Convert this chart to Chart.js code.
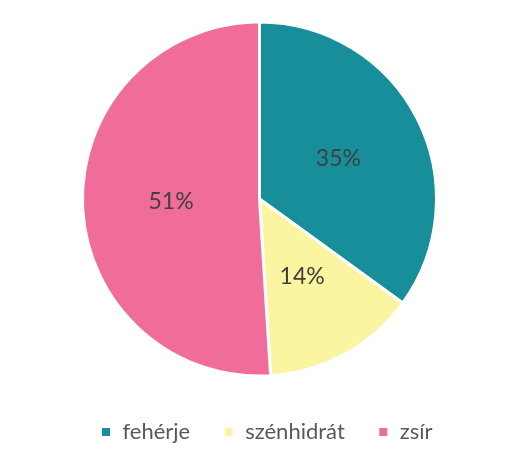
<!DOCTYPE html>
<html>
<head>
<meta charset="utf-8">
<script src="https://cdn.jsdelivr.net/npm/chart.js@4/dist/chart.umd.min.js"></script>
<style>
  html, body { margin: 0; padding: 0; background: #fff; }
  #wrap { width: 515px; height: 457px; }
</style>
</head>
<body>
<div id="wrap"><canvas id="pie"></canvas></div>
<script>
  const labels = ['fehérje', 'szénhidrát', 'zsír'];
  const values = [35, 14, 51];
  const colors = ['#178E9A', '#FBF4A0', '#F06C9B'];

  // draws the percentage in the middle of each slice
  const sliceLabels = {
    id: 'sliceLabels',
    afterDatasetsDraw(chart) {
      const ctx = chart.ctx;
      const meta = chart.getDatasetMeta(0);
      const total = values.reduce((a, b) => a + b, 0);
      ctx.save();
      ctx.font = '23px Lato';
      ctx.fillStyle = '#404040';
      ctx.textAlign = 'center';
      ctx.textBaseline = 'middle';
      meta.data.forEach((arc, i) => {
        const p = arc.tooltipPosition();
        ctx.fillText(Math.round(values[i] / total * 100) + '%', p.x, p.y);
      });
      ctx.restore();
    }
  };

  // legend sits a bit right of the pie centre in the original
  const legendShift = {
    id: 'legendShift',
    afterLayout(chart) {
      chart.legend.left += 7;
      chart.legend.right += 7;
    }
  };

  new Chart(document.getElementById('pie'), {
    type: 'pie',
    data: {
      labels,
      datasets: [{
        data: values,
        backgroundColor: colors,
        borderColor: '#ffffff',
        borderWidth: 3,
        radius: 177
      }]
    },
    options: {
      responsive: true,
      maintainAspectRatio: false,
      animation: false,
      layout: { padding: { top: 10, bottom: 4, left: 4 } },
      plugins: {
        tooltip: { enabled: false },
        legend: {
          position: 'bottom',
          labels: {
            boxWidth: 11,
            boxHeight: 11,
            padding: 33,
            color: '#595959',
            font: { family: 'Lato', size: 22 }
          }
        }
      }
    },
    plugins: [sliceLabels, legendShift]
  });
</script>
</body>
</html>
